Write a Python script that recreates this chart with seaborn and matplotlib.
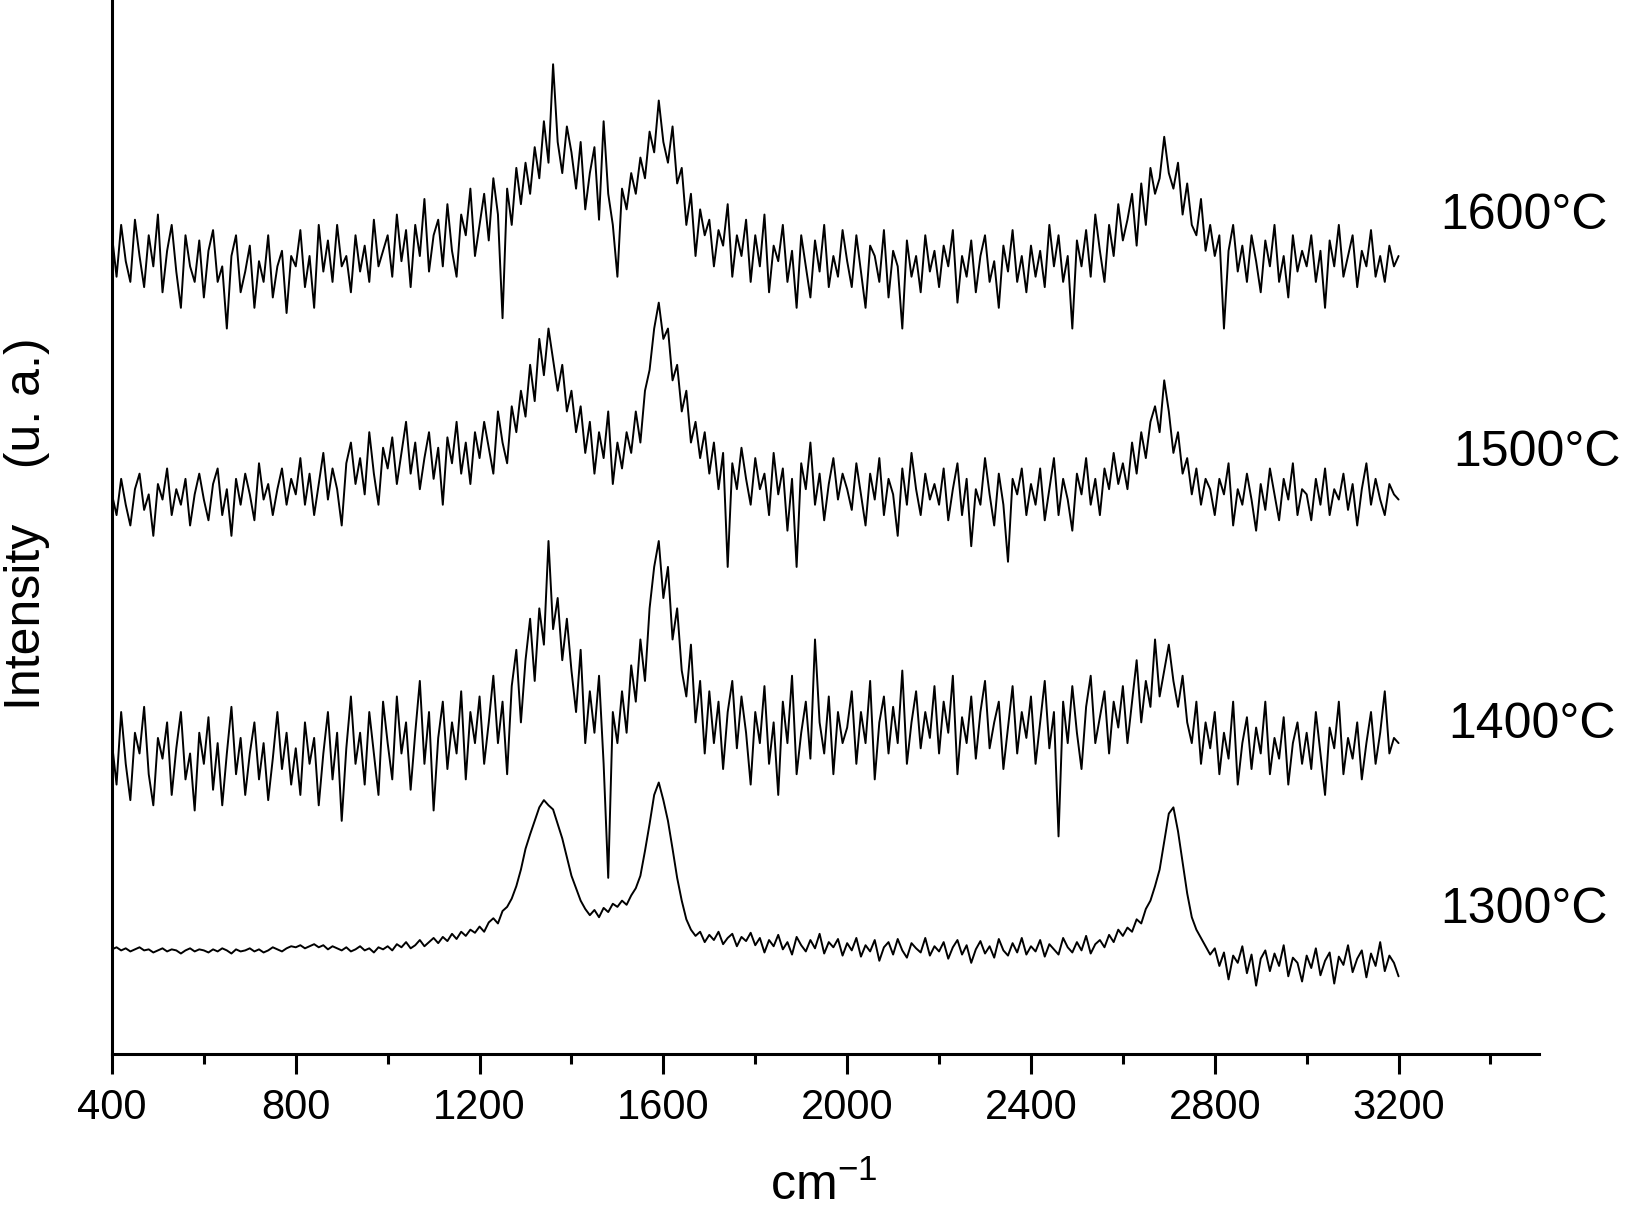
import matplotlib
matplotlib.use("Agg")
import matplotlib.pyplot as plt
import numpy as np
import pandas as pd
import seaborn as sns

# Raman shift grid (cm-1), one reading every 10 cm-1
wavenumber = np.arange(400, 3201, 10)

# intensities (arbitrary units), offset per temperature
i1600 = [
    790, 750, 800, 765, 745, 805, 770, 740, 790, 760, 810, 735, 775, 800, 755, 720, 790, 760, 745, 785,
    730, 775, 795, 745, 760, 700, 770, 790, 735, 755, 780, 720, 765, 745, 790, 730, 760, 775, 715, 770,
    760, 795, 740, 770, 720, 800, 755, 785, 745, 800, 760, 770, 735, 790, 755, 780, 745, 805, 760, 775,
    790, 750, 810, 765, 795, 740, 800, 770, 825, 755, 790, 805, 760, 820, 775, 750, 810, 790, 835, 770,
    800, 830, 785, 845, 810, 710, 835, 800, 855, 820, 860, 830, 875, 845, 900, 860, 955, 880, 850, 895,
    870, 835, 880, 815, 850, 875, 805, 900, 830, 800, 750, 835, 815, 850, 830, 865, 845, 890, 870, 920,
    880, 860, 895, 840, 855, 800, 830, 770, 815, 790, 805, 760, 795, 780, 820, 750, 790, 770, 805, 745,
    790, 760, 810, 735, 780, 765, 800, 745, 775, 720, 790, 760, 730, 785, 755, 800, 740, 770, 750, 795,
    765, 740, 790, 755, 720, 780, 770, 745, 795, 730, 775, 760, 700, 785, 750, 770, 735, 790, 755, 775,
    740, 780, 760, 795, 725, 770, 750, 785, 735, 770, 790, 745, 765, 720, 780, 755, 795, 745, 770, 735,
    780, 750, 775, 740, 800, 760, 790, 745, 770, 700, 785, 760, 795, 750, 810, 775, 745, 800, 770, 820,
    785, 805, 830, 780, 840, 800, 855, 830, 845, 885, 850, 835, 860, 810, 840, 800, 790, 825, 775, 800,
    770, 790, 700, 775, 800, 755, 780, 745, 790, 765, 735, 785, 760, 800, 745, 770, 730, 790, 755, 775,
    760, 790, 745, 775, 720, 785, 760, 800, 750, 770, 790, 740, 775, 760, 795, 750, 770, 745, 780, 760,
    770,
]
i1500 = [
    540, 520, 555, 530, 510, 545, 560, 525, 540, 500, 550, 535, 565, 520, 545, 530, 555, 510, 540, 560,
    535, 515, 550, 565, 520, 545, 500, 555, 530, 560, 540, 515, 570, 535, 550, 520, 545, 565, 530, 555,
    540, 575, 530, 560, 520, 550, 580, 535, 565, 545, 510, 570, 590, 550, 575, 540, 600, 560, 530, 585,
    565, 595, 550, 580, 610, 560, 590, 545, 575, 600, 555, 585, 530, 595, 570, 610, 560, 590, 550, 600,
    575, 610, 585, 560, 620, 590, 570, 625, 600, 640, 615, 665, 630, 690, 655, 700, 670, 640, 665, 620,
    640, 600, 625, 580, 610, 560, 600, 575, 620, 550, 590, 565, 600, 580, 620, 590, 640, 660, 700, 725,
    690, 700, 650, 665, 620, 640, 590, 610, 575, 600, 560, 590, 545, 580, 470, 570, 545, 585, 555, 530,
    575, 545, 560, 520, 580, 540, 565, 505, 555, 470, 570, 545, 590, 530, 560, 515, 550, 575, 535, 560,
    545, 525, 570, 540, 510, 560, 535, 575, 520, 555, 540, 500, 565, 530, 580, 545, 520, 560, 535, 550,
    530, 565, 515, 545, 570, 520, 555, 490, 545, 530, 575, 540, 510, 560, 530, 475, 555, 540, 565, 520,
    550, 530, 565, 515, 545, 575, 520, 555, 535, 505, 560, 540, 575, 530, 555, 520, 565, 545, 580, 550,
    570, 545, 590, 560, 600, 575, 610, 625, 600, 650, 620, 580, 600, 560, 575, 540, 565, 530, 555, 545,
    520, 555, 540, 570, 510, 545, 530, 560, 535, 505, 550, 525, 565, 540, 515, 555, 535, 570, 520, 545,
    540, 515, 555, 530, 565, 520, 545, 535, 560, 525, 550, 510, 545, 570, 530, 555, 535, 520, 550, 540,
    535,
]
i1400 = [
    300, 260, 330, 280, 245, 310, 290, 335, 270, 240, 305, 285, 320, 250, 295, 330, 265, 290, 235, 310,
    280, 325, 255, 300, 240, 290, 335, 270, 305, 250, 290, 320, 265, 300, 245, 285, 330, 275, 310, 260,
    295, 250, 320, 280, 305, 240, 290, 330, 265, 310, 225, 295, 345, 280, 310, 260, 330, 290, 250, 340,
    300, 265, 345, 290, 320, 255, 310, 360, 280, 330, 235, 305, 340, 275, 320, 290, 350, 265, 330, 300,
    345, 280, 320, 365, 300, 340, 270, 355, 390, 320, 380, 420, 360, 430, 395, 495, 410, 440, 380, 420,
    370, 330, 390, 300, 350, 310, 365, 280, 170, 330, 300, 350, 310, 375, 340, 400, 360, 430, 470, 495,
    440, 470, 400, 430, 370, 345, 395, 320, 360, 290, 350, 300, 340, 275, 330, 360, 295, 345, 310, 260,
    330, 300, 355, 280, 320, 250, 340, 300, 365, 270, 310, 340, 285, 400, 320, 290, 345, 270, 330, 300,
    315, 350, 280, 330, 300, 360, 265, 320, 345, 290, 335, 300, 370, 280, 320, 350, 295, 330, 305, 355,
    290, 340, 310, 365, 270, 325, 300, 345, 285, 330, 360, 295, 320, 340, 275, 315, 355, 290, 330, 305,
    345, 280, 320, 360, 295, 330, 210, 340, 300, 355, 310, 275, 335, 365, 300, 325, 350, 290, 340, 315,
    355, 300, 340, 380, 320, 360, 335, 400, 345, 370, 395, 360, 335, 365, 320, 300, 340, 280, 320, 295,
    330, 270, 310, 285, 340, 260, 300, 325, 275, 315, 290, 340, 270, 305, 285, 325, 260, 300, 320, 280,
    310, 275, 330, 290, 250, 315, 295, 340, 270, 305, 285, 320, 265, 300, 330, 280, 310, 350, 290, 305,
    300,
]
i1300 = [
    101, 103, 100, 102, 99, 101, 103, 100, 101, 98, 100, 102, 99, 101, 100, 97, 100, 102, 99, 101,
    100, 98, 101, 99, 102, 100, 97, 101, 99, 100, 102, 99, 101, 98, 100, 103, 101, 99, 102, 104,
    103, 105, 102, 104, 106, 103, 105, 101, 104, 102, 100, 103, 99, 101, 104, 100, 102, 98, 103, 101,
    104, 100, 106, 103, 108, 102, 105, 110, 104, 108, 112, 107, 113, 109, 116, 111, 118, 114, 120, 117,
    123, 118, 127, 131, 126, 138, 142, 150, 162, 178, 198, 212, 225, 238, 245, 240, 236, 222, 208, 190,
    172, 160, 148, 140, 134, 139, 132, 141, 137, 145, 142, 148, 144, 153, 160, 172, 196, 222, 250, 262,
    245, 225, 198, 170, 148, 130, 120, 114, 118, 108, 115, 110, 118, 106, 112, 116, 104, 113, 109, 117,
    105, 112, 98, 110, 104, 115, 101, 108, 96, 113, 105, 99, 110, 102, 116, 97, 108, 103, 111, 95,
    107, 100, 112, 94, 105, 99, 110, 90, 103, 108, 96, 111, 100, 93, 107, 102, 98, 112, 95, 104,
    99, 108, 92, 103, 110, 96, 105, 88, 101, 109, 97, 104, 93, 111, 100, 95, 107, 98, 112, 96,
    104, 99, 110, 94, 106, 101, 96, 112, 103, 98, 108, 100, 114, 97, 106, 110, 103, 115, 108, 120,
    114, 122, 118, 130, 126, 140, 148, 162, 178, 205, 232, 238, 215, 185, 155, 132, 120, 112, 104, 96,
    102, 85, 98, 72, 95, 88, 104, 78, 96, 66, 92, 100, 80, 97, 85, 105, 75, 93, 88, 70,
    95, 83, 102, 76, 90, 98, 68, 94, 86, 105, 79, 92, 100, 74, 97, 85, 108, 80, 95, 88,
    75,
]

temps = ["1600°C", "1500°C", "1400°C", "1300°C"]
label_x = [3290, 3318, 3308, 3290]
label_y = [809, 580, 317, 139]

series = [i1600, i1500, i1400, i1300]
frames = []
for t, vals in zip(temps, series):
    assert len(vals) == len(wavenumber), (t, len(vals))
    frames.append(pd.DataFrame({"x": wavenumber, "y": vals, "temp": t}))
df = pd.concat(frames, ignore_index=True)

sns.set_style("ticks")
plt.rcParams["font.family"] = ["Liberation Sans", "DejaVu Sans"]
plt.rcParams["mathtext.fontset"] = "custom"
plt.rcParams["mathtext.rm"] = "Liberation Sans"
plt.rcParams["mathtext.it"] = "Liberation Sans"
plt.rcParams["text.color"] = "black"
plt.rcParams["axes.labelcolor"] = "black"
plt.rcParams["axes.edgecolor"] = "black"
plt.rcParams["xtick.color"] = "black"

fig = plt.figure(figsize=(16.25, 12.17), dpi=100)
ax = fig.add_axes([0.0689, 0.1339, 0.878, 0.8661])

sns.lineplot(data=df, x="x", y="y", hue="temp", palette=["black"] * 4,
             linewidth=1.4, legend=False, errorbar=None, ax=ax)

for t, lx, ly in zip(temps, label_x, label_y):
    ax.text(lx, ly, t, fontsize=36, ha="left", va="center", color="black")

ax.set_xlim(400, 3505)
ax.set_ylim(0, 1017)
ax.set_xticks(range(400, 3201, 400))
ax.set_xticks(range(600, 3401, 400), minor=True)
ax.set_yticks([])
ax.tick_params(axis="x", which="major", length=14.5, width=2.2, labelsize=30, pad=10,
               direction="out", colors="black")
ax.tick_params(axis="x", which="minor", length=7.5, width=2.2, direction="out", colors="black")

for s in ["top", "right"]:
    ax.spines[s].set_visible(False)
for s in ["left", "bottom"]:
    ax.spines[s].set_linewidth(2.2)
    ax.spines[s].set_color("black")

ax.set_xlabel("cm$^{-1}$", fontsize=36)
ax.xaxis.set_label_coords(0.499, -0.103)
ax.set_ylabel("Intensity    (u. a.)", fontsize=36)
ax.yaxis.set_label_coords(-0.0434, 0.503)

fig.savefig("out.png", dpi=100)
